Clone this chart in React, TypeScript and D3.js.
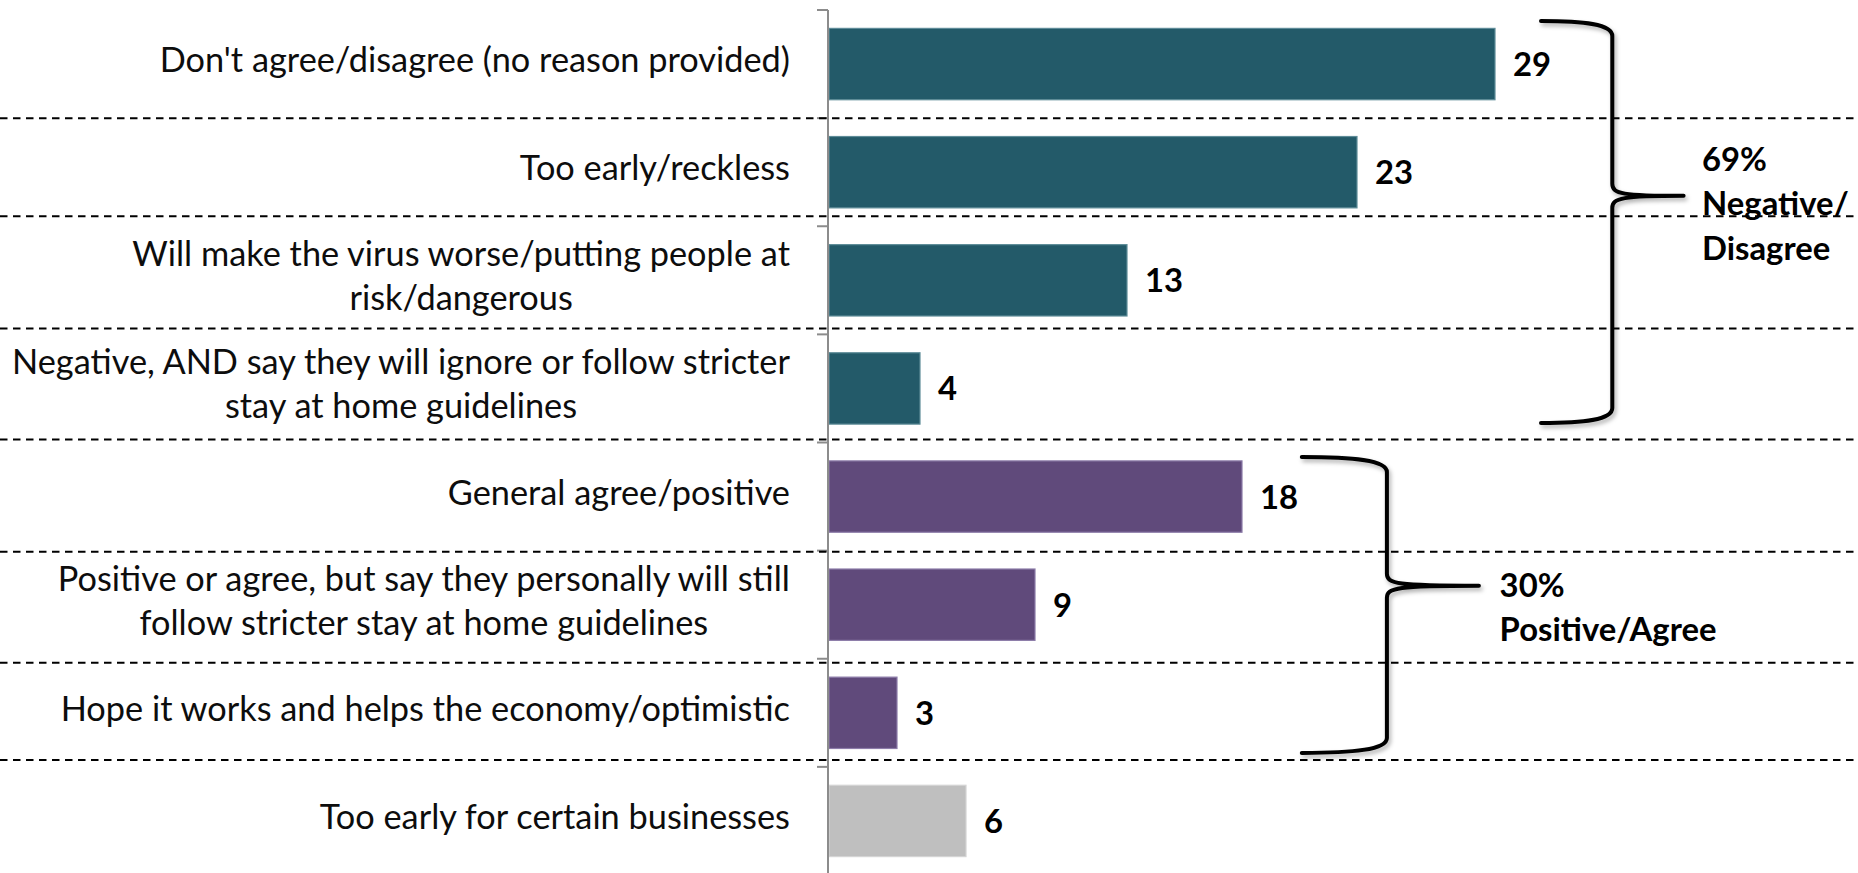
import React, { useEffect, useRef } from "react";
import * as d3 from "d3";

const WIDTH = 1858;
const HEIGHT = 873;

// ---------- data ----------
const categories: string[] = [
  "Don't agree/disagree (no reason provided)",
  "Too early/reckless",
  "Will make the virus worse/putting people at\nrisk/dangerous",
  "Negative, AND say they will ignore or follow stricter\nstay at home guidelines",
  "General agree/positive",
  "Positive or agree, but say they personally will still\nfollow stricter stay at home guidelines",
  "Hope it works and helps the economy/optimistic",
  "Too early for certain businesses",
];
const values: number[] = [29, 23, 13, 4, 18, 9, 3, 6];
const groups: string[] = ["neg", "neg", "neg", "neg", "pos", "pos", "pos", "other"];

const groupFill: Record<string, string> = { neg: "#235A69", pos: "#604A7B", other: "#BFBFBF" };
const groupEdge: Record<string, string> = { neg: "#5E8C98", pos: "#8D7CA9", other: "#D4D4D4" };

// bracket annotations
const bracketFirst: number[] = [0, 4];
const bracketLast: number[] = [3, 6];
const bracketLines: string[][] = [
  ["69%", "Negative/", "Disagree"],
  ["30%", "Positive/Agree"],
];

// ---------- layout ----------
const AXIS_X = 828;
const TOP = 10;
const BOTTOM = 875;
const LABEL_RIGHT = 790;
const LABEL_TARGET = 778; // widest category line width
const BOLD_TARGET = 217; // "Positive/Agree" width
const separatorNudge = [0, -10, -6, -3, 1, 4, -7];
const bracketGeom = [
  { arm: 31.0, spine: 34.1, tip: 37.2, text: 38.0, topPad: 11, botPad: 19.5, textDy: -25 },
  { arm: 20.6, spine: 24.3, tip: 28.3, text: 29.2, topPad: 14.5, botPad: 14, textDy: 11 },
];
const FONT = "Lato, 'Open Sans', 'DejaVu Sans', sans-serif";

function draw(el: SVGSVGElement) {
  const svg = d3.select(el);
  svg.selectAll("*").remove();

  const x = d3.scaleLinear().domain([0, 30]).range([AXIS_X, AXIS_X + 690]);
  const y = d3
    .scaleBand<string>()
    .domain(categories)
    .range([TOP, BOTTOM])
    .paddingInner(0.34)
    .paddingOuter(0.17);
  const step = y.step();
  const boundary = (i: number) => TOP + i * step;
  const center = (c: string) => (y(c) as number) + y.bandwidth() / 2;

  const defs = svg.append("defs");
  const f = defs
    .append("filter")
    .attr("id", "brShadow")
    .attr("x", "-20%")
    .attr("y", "-20%")
    .attr("width", "140%")
    .attr("height", "140%");
  f.append("feDropShadow")
    .attr("dx", 2)
    .attr("dy", 3)
    .attr("stdDeviation", 2)
    .attr("flood-color", "#000")
    .attr("flood-opacity", 0.3);

  svg.append("rect").attr("width", WIDTH).attr("height", HEIGHT).attr("fill", "#fff");

  // bars
  svg
    .append("g")
    .selectAll("rect")
    .data(categories)
    .join("rect")
    .attr("x", x(0) + 1)
    .attr("y", (c) => y(c) as number)
    .attr("width", (_c, i) => x(values[i]) - x(0) - 1)
    .attr("height", y.bandwidth())
    .attr("fill", (_c, i) => groupFill[groups[i]])
    .attr("stroke", (_c, i) => groupEdge[groups[i]])
    .attr("stroke-width", 1.2);

  // axis line and ticks
  const axisG = svg.append("g");
  axisG
    .append("line")
    .attr("x1", AXIS_X)
    .attr("x2", AXIS_X)
    .attr("y1", TOP)
    .attr("y2", HEIGHT)
    .attr("stroke", "#8C8C8C")
    .attr("stroke-width", 2);
  axisG
    .selectAll("line.tick")
    .data(d3.range(categories.length + 1))
    .join("line")
    .attr("class", "tick")
    .attr("x1", AXIS_X - 11)
    .attr("x2", AXIS_X)
    .attr("y1", (i) => boundary(i))
    .attr("y2", (i) => boundary(i))
    .attr("stroke", "#8C8C8C")
    .attr("stroke-width", 2);

  // dashed separators
  svg
    .append("g")
    .selectAll("line")
    .data(d3.range(1, categories.length))
    .join("line")
    .attr("x1", 0)
    .attr("x2", WIDTH)
    .attr("y1", (i) => boundary(i) + separatorNudge[i - 1])
    .attr("y2", (i) => boundary(i) + separatorNudge[i - 1])
    .attr("stroke", "#000")
    .attr("stroke-width", 2)
    .attr("stroke-dasharray", "7.5 5.5");

  // category labels (measure to fit Calibri-like width)
  const labelG = svg.append("g").attr("font-family", FONT).attr("font-size", 35).attr("fill", "#0d0d0d");
  const probe = labelG.append("text").attr("x", 0).attr("y", -100);
  let widest = 0;
  const widths: number[][] = categories.map((c) =>
    c.split("\n").map((ln) => {
      probe.text(ln);
      const w = (probe.node() as SVGTextElement).getComputedTextLength();
      widest = Math.max(widest, w);
      return w;
    })
  );
  probe.remove();
  const k = widest > 0 ? LABEL_TARGET / widest : 1;

  categories.forEach((c, ci) => {
    const lines = c.split("\n");
    const n = lines.length;
    const block = d3.max(widths[ci]) as number;
    const cx = LABEL_RIGHT - (block * k) / 2;
    lines.forEach((ln, j) => {
      const by = center(c) + 8 + (j - (n - 1) / 2) * 44;
      labelG
        .append("text")
        .attr("text-anchor", "middle")
        .attr("transform", `translate(${cx},${by}) scale(${k},1)`)
        .text(ln);
    });
  });

  // bold measurement
  const boldG = svg.append("g").attr("font-family", FONT).attr("font-size", 33).attr("font-weight", 700).attr("fill", "#000");
  const bp = boldG.append("text").attr("y", -100).text("Positive/Agree");
  const bw = (bp.node() as SVGTextElement).getComputedTextLength();
  bp.remove();
  const kb = bw > 0 ? BOLD_TARGET / bw : 1;

  // value labels
  categories.forEach((c, i) => {
    boldG
      .append("text")
      .attr("transform", `translate(${x(values[i]) + 18},${center(c) + 12}) scale(${kb},1)`)
      .text(String(values[i]));
  });

  // brackets
  const brG = svg.append("g");
  bracketFirst.forEach((first, bi) => {
    const g = bracketGeom[bi];
    const last = bracketLast[bi];
    const top = boundary(first) + g.topPad;
    const bot = boundary(last + 1) - g.botPad;
    const cusp = top + (bot - top) * 0.435;
    const L = x(g.arm);
    const V = x(g.spine);
    const T = x(g.tip);
    const p = d3.path();
    p.moveTo(L, top);
    p.bezierCurveTo(L + (V - L) * 0.6, top, V, top + 3, V, top + 15);
    p.lineTo(V, cusp - 12);
    p.bezierCurveTo(V, cusp - 2, V + 10, cusp, T, cusp);
    p.bezierCurveTo(V + 10, cusp, V, cusp + 2, V, cusp + 12);
    p.lineTo(V, bot - 15);
    p.bezierCurveTo(V, bot - 3, L + (V - L) * 0.6, bot, L, bot);
    brG
      .append("path")
      .attr("d", p.toString())
      .attr("fill", "none")
      .attr("stroke", "#000")
      .attr("stroke-width", 4)
      .attr("stroke-linecap", "round")
      .attr("stroke-linejoin", "round")
      .attr("filter", "url(#brShadow)");

    bracketLines[bi].forEach((ln, j) => {
      boldG
        .append("text")
        .attr("transform", `translate(${x(g.text)},${cusp + g.textDy + j * 44.5}) scale(${kb},1)`)
        .text(ln);
    });
  });
}

export default function App() {
  const ref = useRef<SVGSVGElement | null>(null);
  useEffect(() => {
    if (!ref.current) return;
    draw(ref.current);
    const fonts = (document as any).fonts;
    if (fonts && fonts.ready) {
      fonts.ready.then(() => {
        if (ref.current) draw(ref.current);
      });
    }
  }, []);
  return (
    <svg
      ref={ref}
      width={WIDTH}
      height={HEIGHT}
      style={{ position: "absolute", left: 0, top: 0, display: "block" }}
    />
  );
}
